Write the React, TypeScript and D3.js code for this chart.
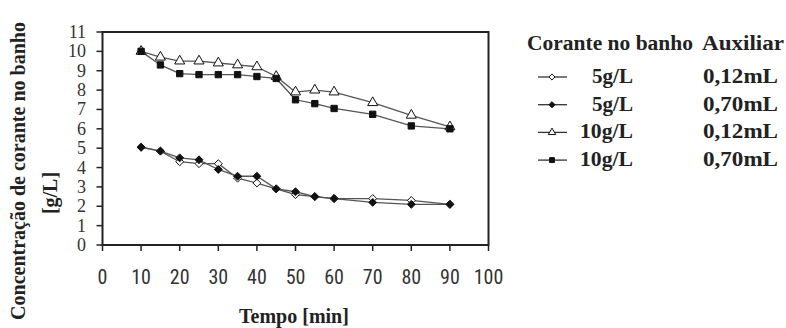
import * as d3 from 'd3'

const times = [10, 15, 20, 25, 30, 35, 40, 45, 50, 55, 60, 70, 80, 90]
const open5 = [5.05, 4.85, 4.3, 4.2, 4.2, 3.45, 3.2, 2.9, 2.6, 2.5, 2.4, 2.4, 2.3, 2.1]
const filled5 = [5.05, 4.85, 4.5, 4.4, 3.9, 3.55, 3.55, 2.9, 2.75, 2.5, 2.4, 2.2, 2.1, 2.1]
const open10 = [10.0, 9.7, 9.5, 9.5, 9.4, 9.3, 9.2, 8.7, 7.9, 8.0, 7.9, 7.35, 6.7, 6.1]
const filled10 = [10.0, 9.3, 8.85, 8.8, 8.8, 8.8, 8.7, 8.6, 7.5, 7.3, 7.05, 6.75, 6.15, 6.0]

const xTicks = [0, 10, 20, 30, 40, 50, 60, 70, 80, 90, 100]
const yTicks = [0, 1, 2, 3, 4, 5, 6, 7, 8, 9, 10, 11]

const legendConc = ['5g/L', '5g/L', '10g/L', '10g/L']
const legendAux = ['0,12mL', '0,70mL', '0,12mL', '0,70mL']

type Shape = 'diamond' | 'triangle' | 'square'
const series: { values: number[]; shape: Shape; fill: string }[] = [
  { values: open5, shape: 'diamond', fill: '#fff' },
  { values: filled5, shape: 'diamond', fill: '#111' },
  { values: open10, shape: 'triangle', fill: '#fff' },
  { values: filled10, shape: 'square', fill: '#111' },
]

function symbolFor(shape: Shape, size: number) {
  const t = shape === 'diamond' ? d3.symbolDiamond2 : shape === 'triangle' ? d3.symbolTriangle : d3.symbolSquare
  return d3.symbol().type(t).size(size)() ?? ''
}

const serif = "'Liberation Serif'"
const cond = "'Roboto Condensed'"

export default function App() {
  const x = d3.scaleLinear().domain([0, 100]).range([102.5, 488.5])
  const y = d3.scaleLinear().domain([0, 11]).range([245, 32])
  const line = d3.line<number>().x((_, i) => x(times[i])).y(d => y(d))
  const rowY = (i: number) => 77 + i * 27.7
  // widths of the legend texts as printed (the scan is a bit stretched)
  const w = (s: string) => (s.length === 4 ? 41 : s.length === 5 ? 53 : 75)

  return (
    <svg width={786} height={328} style={{ position: 'absolute', left: 0, top: 0, background: '#fff' }}>
      {/* frame */}
      <rect x={x(0)} y={y(11)} width={x(100) - x(0)} height={y(0) - y(11)}
        fill="none" stroke="#222" strokeWidth={2} />

      {/* y axis */}
      {yTicks.map(t => (
        <g key={'y' + t}>
          <line x1={x(0) - 6} x2={x(0)} y1={y(t)} y2={y(t)} stroke="#222" strokeWidth={1.5} />
          <text x={86} y={y(t) + 6} textAnchor="end" fontFamily={serif} fontSize={18} fill="#333">{t}</text>
        </g>
      ))}

      {/* x axis */}
      {xTicks.map(t => (
        <g key={'x' + t}>
          <line x1={x(t)} x2={x(t)} y1={y(0)} y2={y(0) + 6} stroke="#222" strokeWidth={1.5} />
          <text x={x(t)} y={284} textAnchor="middle" fontFamily={cond} fontSize={20} fill="#333">{t}</text>
        </g>
      ))}

      {/* axis titles */}
      <text x={294} y={323} textAnchor="middle" fontFamily={serif} fontSize={20} fontWeight="bold" fill="#222">Tempo [min]</text>
      <text transform="translate(25,171) rotate(-90)" textAnchor="middle" fontFamily={serif} fontSize={20}
        fontWeight="bold" fill="#222">Concentração de corante no banho</text>
      <text transform="translate(57,193) rotate(-90)" textAnchor="middle" fontFamily={serif} fontSize={20}
        fontWeight="bold" fill="#222">[g/L]</text>

      {/* series */}
      {series.map((s, k) => (
        <path key={'l' + k} d={line(s.values) ?? ''} fill="none" stroke="#555" strokeWidth={1.3} />
      ))}
      {series.map((s, k) => (
        <g key={'m' + k}>
          {s.values.map((v, i) => (
            <path key={i} transform={`translate(${x(times[i])},${y(v)})`}
              d={symbolFor(s.shape, s.shape === 'triangle' ? 44 : 40)}
              fill={s.fill} stroke="#111" strokeWidth={1} />
          ))}
        </g>
      ))}

      {/* legend */}
      <text x={527} y={50} fontFamily={serif} fontSize={20} fontWeight="bold" fill="#222"
        textLength={166} lengthAdjust="spacingAndGlyphs">Corante no banho</text>
      <text x={702} y={50} fontFamily={serif} fontSize={20} fontWeight="bold" fill="#222"
        textLength={82} lengthAdjust="spacingAndGlyphs">Auxiliar</text>
      {series.map((s, i) => (
        <g key={'lg' + i}>
          <line x1={538} x2={567} y1={rowY(i)} y2={rowY(i)} stroke="#333" strokeWidth={1.3} />
          <path transform={`translate(552,${rowY(i)})`} d={symbolFor(s.shape, 24)}
            fill={s.fill} stroke="#111" strokeWidth={1} />
          <text x={633 - w(legendConc[i])} y={rowY(i) + 6} fontFamily={serif} fontSize={20}
            fontWeight="bold" fill="#222" textLength={w(legendConc[i])}
            lengthAdjust="spacingAndGlyphs">{legendConc[i]}</text>
          <text x={703} y={rowY(i) + 6} fontFamily={serif} fontSize={20}
            fontWeight="bold" fill="#222" textLength={75} lengthAdjust="spacingAndGlyphs">{legendAux[i]}</text>
        </g>
      ))}
    </svg>
  )
}
